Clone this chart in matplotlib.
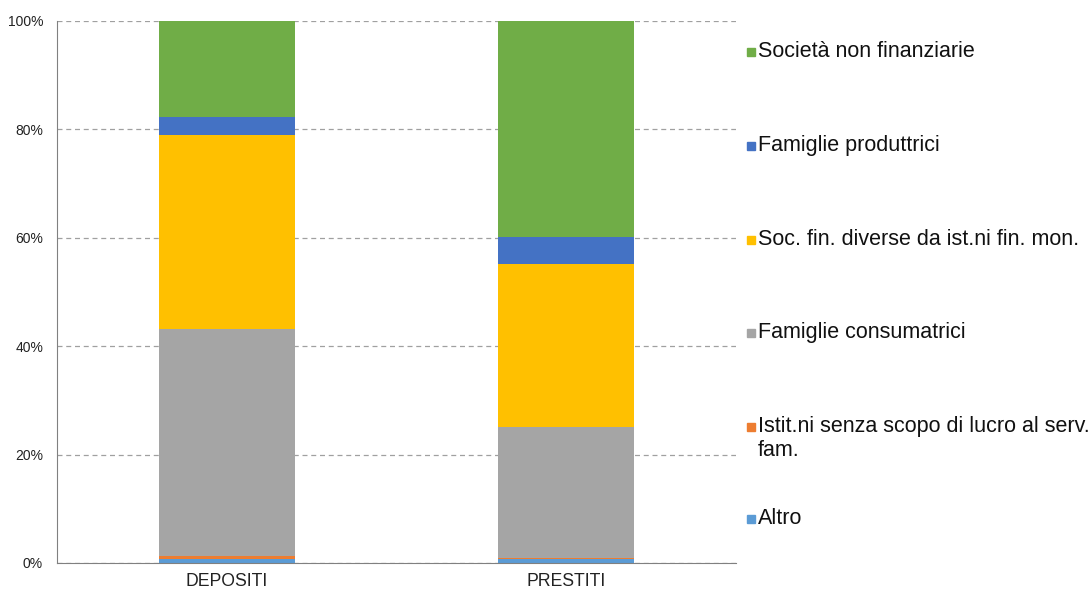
import numpy as np
import matplotlib.pyplot as plt
from matplotlib.patches import Rectangle
from matplotlib.ticker import PercentFormatter

plt.rcParams['font.family'] = ['Liberation Sans', 'DejaVu Sans']

categories = ["DEPOSITI", "PRESTITI"]

series = [
    "Altro",
    "Istit.ni senza scopo di lucro al serv.\nfam.",
    "Famiglie consumatrici",
    "Soc. fin. diverse da ist.ni fin. mon.",
    "Famiglie produttrici",
    "Società non finanziarie",
]

altro = [0.75, 0.7]
istit = [0.6, 0.3]
fam_cons = [41.85, 24.1]
soc_fin = [35.8, 30.0]
fam_prod = [3.2, 5.1]
soc_non_fin = [17.8, 39.8]

values = [altro, istit, fam_cons, soc_fin, fam_prod, soc_non_fin]
colors = ["#5B9BD5", "#ED7D31", "#A5A5A5", "#FFC000", "#4472C4", "#70AD47"]

W, H = 1091, 591
fig = plt.figure(figsize=(W / 100, H / 100), dpi=100)
ax = fig.add_axes([57 / W, 28 / H, 679 / W, 542 / H])

x = np.arange(len(categories))
bottom = np.zeros(len(categories))
for name, vals, col in zip(series, values, colors):
    ax.bar(x, vals, 0.4, bottom=bottom, color=col, label=name, zorder=2)
    bottom += np.array(vals)

ax.set_xlim(-0.5, 1.5)
ax.set_ylim(0, 100)
ax.set_yticks(np.arange(0, 101, 20))
ax.yaxis.set_major_formatter(PercentFormatter(decimals=0))
ax.set_xticks(x)
ax.set_xticklabels(categories, fontsize=12.7, color="#222222")
ax.tick_params(axis="y", labelsize=10, length=0, pad=10, labelcolor="#222222")
ax.tick_params(axis="x", length=0, pad=7)
ax.grid(axis="y", linestyle=(0, (4, 3)), color="#a0a0a0", linewidth=0.9, zorder=0)

for s in ["top", "right"]:
    ax.spines[s].set_visible(False)
ax.spines["left"].set_color("#808080")
ax.spines["bottom"].set_color("#808080")

# legend drawn by hand so the spacing follows the original
legend_y = [519, 427, 333, 240, 146, 52]
for name, col, yp in zip(series, colors, legend_y):
    fig.add_artist(Rectangle((747 / W, 1 - (yp + 4) / H), 8 / W, 8 / H,
                             transform=fig.transFigure, color=col))
    fig.text(758 / W, 1 - (yp - 11) / H, name, fontsize=15.5, va="top",
             ha="left", linespacing=1.2, color="#111111")

fig.savefig("out.png", dpi=100)
